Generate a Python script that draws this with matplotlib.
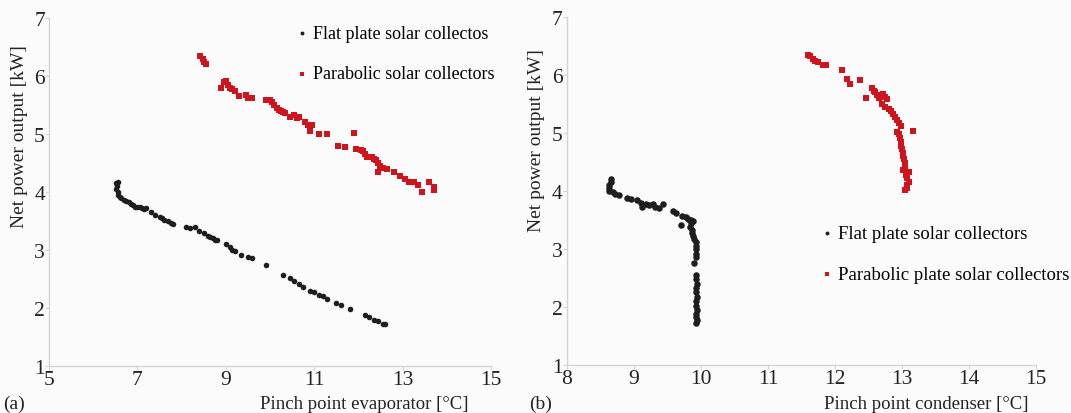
import matplotlib.pyplot as plt

# (a) pinch point evaporator
flat_a_x = [6.55, 6.52, 6.53, 6.52, 6.55, 6.55, 6.6, 6.62, 6.7, 6.75, 6.8, 6.85, 6.9, 6.95,
            7.0, 7.05, 7.1, 7.15, 7.2, 7.3, 7.4, 7.5, 7.55, 7.6, 7.7, 7.75, 7.8, 8.1, 8.2,
            8.3, 8.4, 8.5, 8.6, 8.65, 8.7, 8.75, 8.8, 9.0, 9.1, 9.15, 9.2, 9.35, 9.5, 9.6,
            9.9, 10.3, 10.45, 10.55, 10.65, 10.75, 10.9, 11.0, 11.1, 11.2, 11.3, 11.5, 11.6,
            11.8, 12.15, 12.25, 12.35, 12.45, 12.55, 12.6]
flat_a_y = [4.18, 4.15, 4.1, 4.05, 4.0, 3.95, 3.92, 3.9, 3.87, 3.85, 3.82, 3.8, 3.77, 3.75,
            3.74, 3.75, 3.72, 3.7, 3.73, 3.65, 3.6, 3.57, 3.55, 3.52, 3.5, 3.47, 3.45, 3.4, 3.38,
            3.4, 3.33, 3.3, 3.25, 3.22, 3.2, 3.18, 3.17, 3.1, 3.05, 3.0, 2.98, 2.92, 2.88, 2.87,
            2.75, 2.57, 2.52, 2.47, 2.42, 2.37, 2.3, 2.27, 2.22, 2.2, 2.15, 2.08, 2.05,
            1.98, 1.88, 1.85, 1.8, 1.78, 1.73, 1.72]
para_a_x = [8.42, 8.48, 8.5, 8.55, 8.9, 8.95, 9.0, 9.05, 9.1, 9.15, 9.2, 9.3, 9.45, 9.5, 9.6,
            9.9, 10.0, 10.05, 10.1, 10.15, 10.2, 10.25, 10.3, 10.35, 10.45, 10.55, 10.6, 10.65,
            10.8, 10.85, 10.9, 10.95, 10.9, 11.1, 11.3, 11.55, 11.7, 11.9, 11.95, 12.05, 12.1,
            12.15, 12.2, 12.3, 12.35, 12.4, 12.45, 12.5, 12.45, 12.55, 12.65, 12.8, 12.95,
            13.05, 13.15, 13.25, 13.35, 13.45, 13.6, 13.7, 13.72]
para_a_y = [6.35, 6.3, 6.25, 6.2, 5.8, 5.9, 5.92, 5.85, 5.8, 5.78, 5.75, 5.65, 5.68, 5.62, 5.62,
            5.58, 5.58, 5.55, 5.5, 5.45, 5.42, 5.4, 5.38, 5.37, 5.3, 5.32, 5.27, 5.3,
            5.2, 5.15, 5.1, 5.15, 5.05, 5.0, 5.0, 4.8, 4.78, 5.02, 4.75, 4.72, 4.7,
            4.65, 4.6, 4.6, 4.57, 4.55, 4.5, 4.45, 4.35, 4.42, 4.4, 4.35, 4.28,
            4.22, 4.18, 4.17, 4.12, 4.0, 4.17, 4.08, 4.03]

# (b) pinch point condenser
flat_b_x = [8.65, 8.66, 8.63, 8.62, 8.62, 8.68, 8.72, 8.78, 8.9, 8.95, 9.05, 9.1, 9.12, 9.18,
            9.22, 9.28, 9.32, 9.38, 9.43, 9.58, 9.62, 9.72, 9.77, 9.8, 9.85, 9.88, 9.85, 9.7,
            9.83, 9.86, 9.87, 9.88, 9.9, 9.92, 9.93, 9.93, 9.92, 9.93, 9.89, 9.93, 9.93, 9.94,
            9.93, 9.93, 9.94, 9.93, 9.93, 9.94, 9.93, 9.92, 9.94, 9.92]
flat_b_y = [4.2, 4.15, 4.1, 4.05, 4.0, 3.98, 3.95, 3.93, 3.88, 3.87, 3.85, 3.8, 3.73, 3.78,
            3.75, 3.77, 3.72, 3.7, 3.78, 3.66, 3.62, 3.57, 3.55, 3.52, 3.5, 3.48, 3.45, 3.42,
            3.38, 3.33, 3.28, 3.22, 3.18, 3.12, 3.05, 3.0, 2.92, 2.86, 2.75, 2.55, 2.48, 2.4,
            2.32, 2.25, 2.18, 2.1, 2.02, 1.95, 1.88, 1.82, 1.77, 1.72]
para_b_x = [11.6, 11.63, 11.67, 11.7, 11.75, 11.82, 11.87, 12.1, 12.18, 12.22, 12.38, 12.46,
            12.55, 12.58, 12.6, 12.62, 12.65, 12.72, 12.75, 12.78, 12.7, 12.74, 12.8, 12.83,
            12.86, 12.9, 12.93, 12.96, 12.98, 12.92, 12.95, 13.16, 12.97, 12.98, 12.99, 13.0,
            13.01, 13.02, 13.03, 13.04, 13.05, 13.02, 13.1, 13.06, 13.08, 13.1, 13.07, 13.05, 13.08]
para_b_y = [6.35, 6.32, 6.28, 6.25, 6.22, 6.18, 6.18, 6.08, 5.93, 5.85, 5.92, 5.6,
            5.77, 5.73, 5.7, 5.65, 5.6, 5.68, 5.62, 5.58, 5.5, 5.45, 5.42, 5.38,
            5.33, 5.28, 5.22, 5.18, 5.12, 5.02, 4.98, 5.03, 4.92, 4.85, 4.78, 4.72,
            4.66, 4.6, 4.55, 4.48, 4.42, 4.36, 4.33, 4.28, 4.22, 4.15, 4.1, 4.02, 4.05]

BLACK = '#1e1e1e'
RED = '#d0141e'
SPINE = '#d4d4d4'
TXT = '#222222'

plt.rcParams['font.family'] = ['Liberation Serif', 'DejaVu Serif']

fig = plt.figure(figsize=(10.71, 4.14), dpi=100)
fig.patch.set_facecolor('#fbfbfb')

ax_a = fig.add_axes([0.0458, 0.1135, 0.4126, 0.8406])
ax_b = fig.add_axes([0.5294, 0.116, 0.4379, 0.8405])


def style_axes(ax, xlim, xticks):
    ax.set_facecolor('#fbfbfb')
    ax.set_xlim(*xlim)
    ax.set_ylim(1, 7)
    ax.set_xticks(xticks)
    ax.set_yticks(range(1, 8))
    for side in ('top', 'right'):
        ax.spines[side].set_visible(False)
    for side in ('left', 'bottom'):
        ax.spines[side].set_color(SPINE)
        ax.spines[side].set_linewidth(1.0)
    ax.tick_params(axis='both', colors=SPINE, length=3, width=0.8,
                   labelcolor=TXT, labelsize=15.5, pad=0)


style_axes(ax_a, (5, 15), [5, 7, 9, 11, 13, 15])
ax_a.scatter(flat_a_x, flat_a_y, s=16, color=BLACK, marker='o', linewidths=0,
             label='Flat plate solar collectos')
ax_a.scatter(para_a_x, para_a_y, s=14, color=RED, marker='s', linewidths=0,
             label='Parabolic solar collectors')
ax_a.legend(loc='upper left', bbox_to_anchor=(0.515, 1.027), frameon=False, fontsize=13,
            handletextpad=0.1, labelspacing=1.3, markerscale=0.7, handlelength=1.0)

style_axes(ax_b, (8, 15), range(8, 16))
ax_b.scatter(flat_b_x, flat_b_y, s=22, color=BLACK, marker='o', linewidths=0,
             label='Flat plate solar collectors')
ax_b.scatter(para_b_x, para_b_y, s=18, color=RED, marker='s', linewidths=0,
             label='Parabolic plate solar collectors')
ax_b.legend(loc='upper left', bbox_to_anchor=(0.498, 0.45), frameon=False, fontsize=13.5,
            handletextpad=0.1, labelspacing=1.25, markerscale=0.6, handlelength=1.0)

# axis titles and panel tags placed as in the source figure
fig.text(0.018, 0.67, 'Net power output [kW]', rotation=90, ha='center', va='center',
         fontsize=14, color=TXT)
fig.text(0.501, 0.66, 'Net power output [kW]', rotation=90, ha='center', va='center',
         fontsize=14, color=TXT)
fig.text(0.34, 0.003, 'Pinch point evaporator [°C]', ha='center', va='bottom',
         fontsize=13.5, color=TXT)
fig.text(0.865, 0.003, 'Pinch point condenser [°C]', ha='center', va='bottom',
         fontsize=13.5, color=TXT)
fig.text(0.003, 0.003, '(a)', ha='left', va='bottom', fontsize=14, color=TXT)
fig.text(0.494, 0.003, '(b)', ha='left', va='bottom', fontsize=14, color=TXT)

fig.savefig('out.png', dpi=100, facecolor=fig.get_facecolor())
